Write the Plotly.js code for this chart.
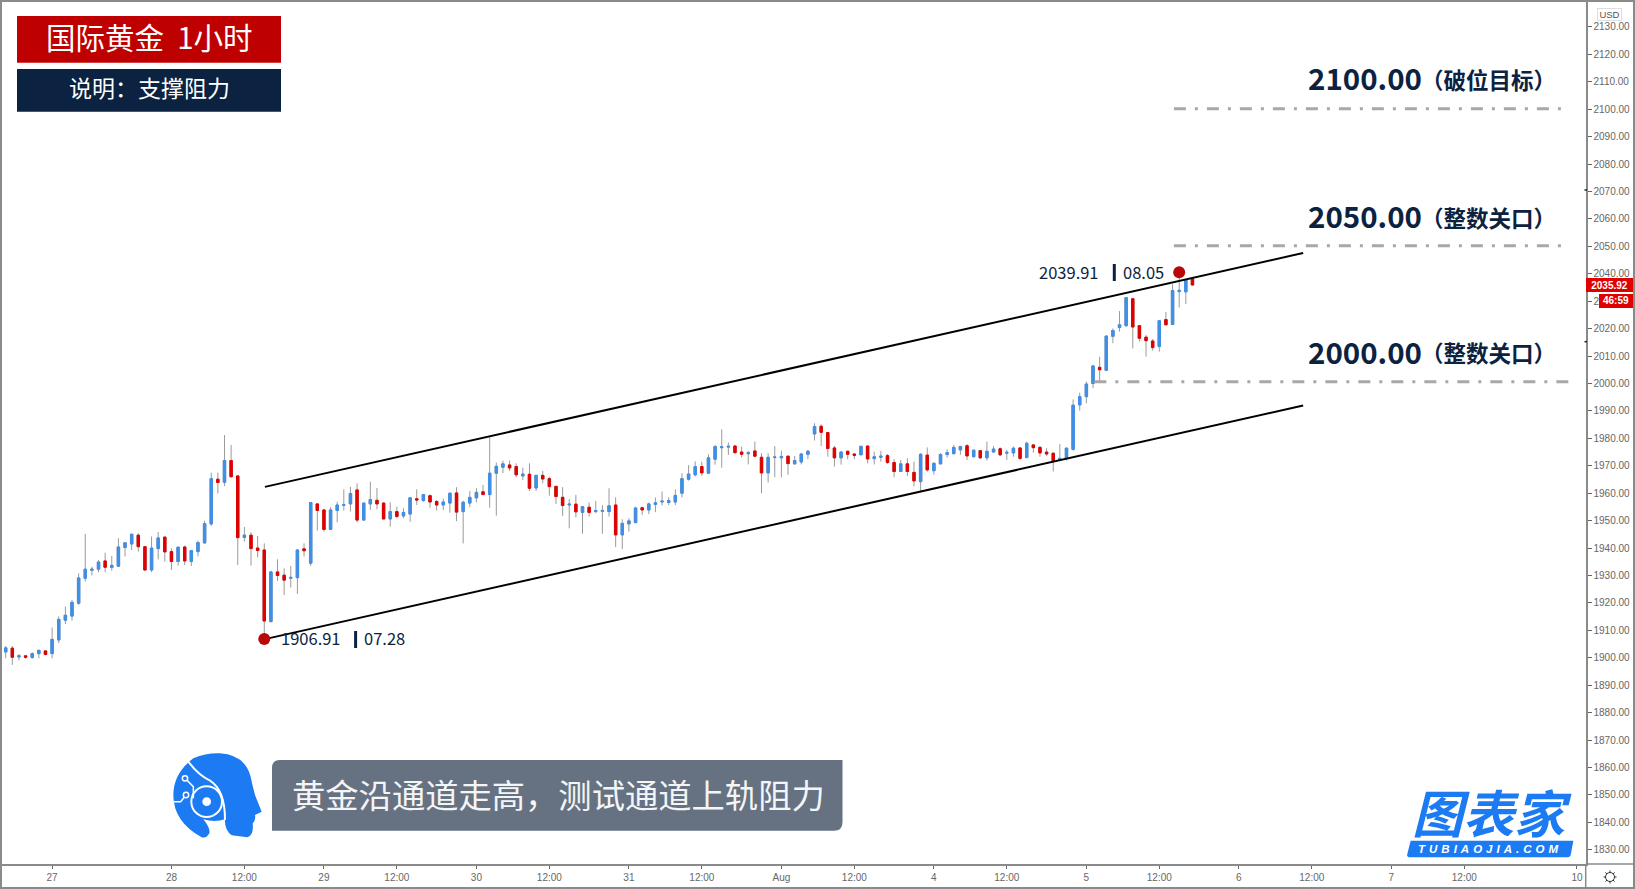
<!DOCTYPE html>
<html><head><meta charset="utf-8">
<script src="https://cdn.plot.ly/plotly-3.0.1.min.js"></script>
<style>html,body{margin:0;padding:0;background:#fff;overflow:hidden}
#frame{position:absolute;left:0;top:0;width:1635px;height:889px;box-sizing:border-box;border:2px solid #8a8a8a;pointer-events:none}
#chart{position:absolute;left:0;top:0;width:1635px;height:889px}</style></head>
<body><div id="chart"></div><div id="frame"></div>
<script>
const opens=[1902.1,1903.5,1900.3,1900.7,1900.1,1901.5,1902.5,1901.5,1906.5,1913.7,1915.2,1919.9,1929.0,1931.9,1932.3,1935.3,1932.9,1933.4,1940.2,1941.5,
1944.7,1940.5,1932.0,1939.8,1944.0,1938.7,1935.1,1940.4,1935.1,1938.7,1941.9,1948.8,1965.1,1964.0,1971.9,1966.3,1943.9,1944.7,1940.0,1939.3,
1913.2,1931.3,1930.1,1929.0,1929.2,1939.7,1934.5,1956.1,1953.9,1946.8,1953.7,1955.6,1956.1,1961.2,1950.2,1956.1,1957.4,1956.4,1950.6,1953.3,
1951.7,1952.4,1958.0,1957.3,1959.1,1957.0,1955.7,1956.4,1960.1,1953.3,1956.4,1958.3,1960.5,1959.5,1967.3,1969.5,1970.3,1969.7,1966.3,1966.9,
1961.9,1966.5,1965.3,1962.5,1958.5,1955.7,1956.0,1953.0,1954.9,1953.3,1953.4,1953.3,1955.7,1944.8,1948.8,1949.3,1954.7,1953.9,1955.9,1956.8,
1956.6,1956.8,1960.0,1965.1,1966.7,1969.7,1967.3,1972.4,1976.6,1976.8,1977.2,1975.0,1974.4,1975.4,1973.1,1967.4,1973.0,1972.9,1973.5,1970.7,
1971.4,1974.2,1981.6,1984.4,1982.1,1976.5,1972.9,1975.3,1974.3,1974.0,1977.2,1972.6,1973.1,1973.7,1971.2,1967.9,1970.7,1967.6,1964.2,1973.9,
1968.2,1970.7,1974.1,1974.4,1975.8,1977.3,1973.3,1975.5,1972.9,1975.0,1976.2,1974.6,1974.7,1976.5,1973.0,1977.6,1976.7,1975.0,1974.6,1972.1,
1972.6,1976.0,1992.2,1995.2,2000.0,2005.9,2004.8,2017.2,2020.4,2021.1,2030.9,2021.1,2016.9,2015.5,2013.5,2023.3,2021.5,2033.5,2033.4,2038.1];
const closes=[1903.6,1900.2,1900.7,1900.2,1901.5,1902.7,1901.2,1906.7,1914.0,1915.5,1920.2,1929.1,1932.3,1932.3,1934.9,1933.0,1933.7,1940.4,1941.9,1945.0,
1940.5,1932.0,1940.0,1943.7,1938.6,1935.1,1940.3,1935.3,1939.1,1942.0,1948.9,1965.3,1963.9,1971.9,1966.0,1943.8,1944.7,1939.8,1939.1,1913.4,
1931.3,1930.0,1928.3,1929.3,1939.3,1939.0,1956.6,1953.7,1946.8,1953.9,1955.7,1955.8,1959.9,1950.2,1956.4,1957.7,1956.1,1950.6,1953.3,1951.5,
1953.0,1958.3,1957.5,1959.5,1956.8,1955.7,1956.8,1960.0,1953.1,1956.7,1958.5,1960.3,1959.5,1967.3,1969.8,1970.7,1969.2,1966.7,1967.0,1961.8,
1966.5,1965.2,1962.4,1958.8,1955.5,1956.0,1953.2,1955.1,1953.0,1953.7,1953.7,1955.4,1944.8,1949.0,1949.9,1954.6,1953.9,1956.1,1956.5,1957.1,
1957.3,1959.2,1965.3,1967.0,1969.7,1967.4,1972.9,1977.0,1976.9,1977.1,1974.8,1974.2,1974.8,1973.5,1967.4,1973.1,1973.2,1973.4,1970.8,1971.9,
1974.3,1975.3,1984.3,1982.2,1976.3,1972.9,1975.0,1974.2,1973.8,1977.1,1972.5,1973.3,1973.5,1971.2,1967.9,1970.7,1967.9,1964.5,1974.2,1968.5,
1970.9,1974.1,1974.8,1976.7,1977.0,1973.6,1975.7,1972.9,1975.3,1976.1,1974.0,1974.9,1976.4,1972.7,1978.2,1976.6,1974.7,1974.3,1971.8,1972.7,
1976.4,1992.1,1995.2,1999.8,2006.4,2005.0,2017.3,2019.3,2021.4,2031.3,2020.6,2016.5,2015.6,2013.1,2022.9,2021.4,2033.9,2034.0,2037.8,2035.92];
const highs=[1904.3,1904.3,1901.4,1901.0,1902.0,1903.0,1902.6,1911.0,1915.1,1918.7,1921.1,1930.8,1945.2,1933.2,1935.7,1938.3,1937.1,1943.6,1942.0,1945.4,
1945.4,1940.8,1944.2,1945.9,1944.0,1939.9,1940.5,1940.9,1939.3,1942.7,1950.0,1967.5,1967.5,1981.2,1977.6,1966.3,1947.7,1945.8,1944.4,1941.7,
1931.7,1935.9,1932.6,1933.5,1939.5,1941.7,1956.7,1956.1,1954.2,1954.9,1956.9,1961.4,1962.3,1963.6,1956.6,1964.2,1961.9,1956.6,1956.7,1955.1,
1954.5,1958.4,1961.4,1959.7,1959.5,1957.5,1958.0,1960.1,1962.2,1957.3,1960.8,1961.8,1963.0,1980.4,1971.2,1971.9,1971.9,1970.9,1969.3,1970.9,
1966.7,1968.1,1966.0,1962.6,1962.2,1957.8,1959.4,1955.1,1956.6,1957.2,1955.7,1961.8,1958.5,1950.5,1950.9,1955.1,1955.1,1956.6,1958.4,1960.6,
1958.5,1961.4,1967.3,1970.2,1971.6,1971.5,1974.2,1977.6,1983.3,1978.5,1977.6,1977.0,1975.4,1978.8,1974.6,1974.6,1977.2,1975.5,1973.6,1973.6,
1974.6,1975.8,1985.5,1985.1,1982.1,1977.3,1975.4,1975.4,1974.4,1977.2,1977.3,1975.2,1975.4,1974.3,1972.4,1972.1,1972.7,1971.5,1974.6,1976.7,
1971.2,1974.6,1976.0,1977.6,1977.3,1977.9,1975.8,1975.8,1978.8,1977.2,1976.7,1975.8,1977.0,1976.7,1978.8,1977.9,1977.2,1976.4,1974.6,1977.9,
1976.7,1994.2,1996.7,2000.7,2006.8,2009.8,2017.4,2020.1,2026.4,2031.4,2031.0,2021.3,2017.7,2016.2,2023.2,2026.1,2036.2,2039.91,2037.8,2038.3];
const lows=[1899.8,1897.4,1899.0,1899.6,1899.6,1899.8,1900.9,1899.8,1905.3,1912.3,1913.6,1919.3,1927.8,1930.0,1931.2,1931.2,1931.7,1933.2,1936.9,1939.3,
1938.7,1931.7,1931.2,1935.9,1935.1,1932.0,1933.6,1933.8,1933.5,1936.9,1941.5,1948.1,1959.9,1962.6,1965.8,1933.8,1942.4,1933.6,1936.6,1906.91,
1912.8,1928.0,1922.9,1925.6,1923.3,1936.9,1933.5,1946.4,1946.0,1946.8,1949.4,1953.7,1953.3,1949.3,1950.2,1953.9,1954.1,1950.6,1947.8,1950.9,
1950.9,1949.6,1955.7,1956.9,1954.7,1953.7,1953.9,1952.9,1949.8,1941.7,1954.9,1956.6,1959.5,1954.7,1951.8,1967.3,1968.1,1965.8,1964.8,1960.8,
1960.8,1963.6,1959.1,1956.1,1951.7,1947.2,1951.2,1945.2,1951.5,1952.7,1945.2,1951.5,1940.4,1939.6,1946.0,1949.0,1952.1,1952.4,1953.1,1955.5,
1955.7,1955.7,1958.5,1964.6,1966.1,1966.3,1967.3,1970.4,1969.3,1974.0,1974.3,1973.1,1970.5,1973.3,1960.0,1963.9,1965.8,1965.8,1966.7,1970.5,
1970.5,1972.4,1979.2,1977.2,1973.3,1969.7,1970.4,1972.4,1972.4,1974.0,1970.9,1970.5,1971.5,1970.7,1965.8,1967.9,1966.3,1962.5,1960.5,1967.9,
1966.7,1970.5,1973.0,1974.3,1974.0,1972.1,1973.0,1972.6,1971.9,1975.0,1973.6,1972.1,1973.3,1972.1,1972.7,1974.8,1973.3,1973.6,1967.9,1971.9,
1971.9,1975.5,1990.1,1992.8,1998.3,2000.7,2004.7,2014.7,2018.9,2020.5,2012.8,2015.3,2009.8,2012.0,2011.6,2021.4,2021.5,2027.7,2029.0,2035.7];
const barIndex=opens.map((_,i)=>i);
const bodyTops=opens.map((o,i)=>Math.max(o,closes[i]));
const bodyBottoms=opens.map((o,i)=>Math.min(o,closes[i]));

const tickBars=[7,25,36,48,59,71,82,94,105,117,128,140,151,163,174,186,197,209,220,237];
const tickLabels=['27','28','12:00','29','12:00','30','12:00','31','12:00','Aug','12:00','4','12:00','5','12:00','6','12:00','7','12:00','10'];
const priceTicks=[1830,1840,1850,1860,1870,1880,1890,1900,1910,1920,1930,1940,1950,1960,1970,1980,1990,2000,2010,2020,2030,2040,2050,2060,2070,2080,2090,2100,2110,2120,2130];

const channelBars=[39.1,195.7];
const channelUpper=[1962.3,2047.6];
const channelLower=[1906.8,1992.0];

const levelPrices=[2100.2,2050.2,2000.6];
const levelStarts=[176.2,176.2,164.2];
const levelEnds=[234.7,234.7,235.8];
const levelNames=['（破位目标）','（整数关口）','（整数关口）'];
const levelTexts=['2100.00','2050.00','2000.00'];

const dotBars=[39,177];
const dotPrices=[1906.8,2040.6];

const PL=2,PT=2,PW=1584,PH=862;
const fx=p=>(p-PL)/PW, fy=p=>1-(p-PT)/PH;
const rect=(x0,y0,x1,y1,c)=>({type:'rect',xref:'paper',yref:'paper',x0:fx(x0),x1:fx(x1),y0:fy(y0),y1:fy(y1),fillcolor:c,line:{width:0}});
const seg=(x0,y0,x1,y1,c,w)=>({type:'line',xref:'paper',yref:'paper',x0:fx(x0),x1:fx(x1),y0:fy(y0),y1:fy(y1),line:{color:c,width:w}});
function path(cmds,fill,lineC,lineW){
  const d=cmds.map(c=>c[0]+(c.length>1?' '+c.slice(1).map((v,j)=>j%2?fy(v):fx(v)).join(' '):'')).join(' ');
  return {type:'path',xref:'paper',yref:'paper',path:d,fillcolor:fill||'rgba(0,0,0,0)',line:{color:lineC||'rgba(0,0,0,0)',width:lineW||0}};
}
const note=(x,y,text,size,color,extra)=>Object.assign({xref:'paper',yref:'paper',x:fx(x),y:fy(y),xanchor:'center',yanchor:'middle',showarrow:false,text:text,font:{family:'"Noto Sans CJK SC","Noto Sans",sans-serif',size:size,color:color}},extra||{});

const hx=v=>160+v/3, hy=v=>740+v/3;
const H=(c,...a)=>[c,...a.map((v,i)=>i%2?hy(v):hx(v))];
const circ=(cx,cy,r,fill,lc,lw)=>({type:'circle',xref:'paper',yref:'paper',x0:fx(hx(cx-r)),x1:fx(hx(cx+r)),y0:fy(hy(cy-r)),y1:fy(hy(cy+r)),fillcolor:fill,line:{color:lc||'rgba(0,0,0,0)',width:lw||0}});
const BLUE='#1c7bf2';
const head=[
 path([H('M',100,55),H('Q',140,38,180,40),H('Q',255,45,272,110),H('Q',278,140,285,165),H('L',305,215),H('L',285,225),H('Q',288,240,278,250),H('Q',282,285,262,292),H('L',215,286),H('Q',193,270,195,238),H('Q',165,248,130,238),H('Q',152,265,148,280),H('Q',140,296,125,292),H('Q',40,245,40,165),H('Q',40,100,100,55),['Z']],BLUE),
 path([H('M',85,65),H('Q',115,105,150,122),H('Q',195,150,195,240)],null,'#fff',2),
 circ(140,185,46,'rgba(0,0,0,0)','#fff',2),
 circ(140,185,13,'#fff'),
 path([H('M',42,185),H('L',62,185),H('L',78,165)],null,'#fff',1.5),
 path([H('M',75,115),H('L',100,140),H('L',100,175)],null,'#fff',1.5),
 circ(75,115,8,BLUE,'#fff',1.5),
 circ(78,165,8,BLUE,'#fff',1.5)
];

const lx=v=>1380+v/3, ly=v=>770+v/3;
const L=(c,...a)=>[c,...a.map((v,i)=>i%2?ly(v):lx(v))];

function circ2(x,y,r){return {type:'circle',xref:'paper',yref:'paper',x0:fx(x-r),x1:fx(x+r),y0:fy(y-r),y1:fy(y+r),fillcolor:'#fff',line:{color:'#333',width:1}};}
const gear=[circ2(1610,877,4.5)];
const gearSpokes=[[0,-6.5,0,-4],[0,4,0,6.5],[-6.5,0,-4,0],[4,0,6.5,0],[-4.6,-4.6,-3,-3],[3,3,4.6,4.6],[-4.6,4.6,-3,3],[3,-3,4.6,-4.6]].map(s=>seg(1610+s[0],877+s[1],1610+s[2],877+s[3],'#333',1));

const shapes=[
 rect(17,16,281,62.7,'#bf0000'),
 rect(17,69,281,111.7,'#0b2240'),
 path([['M',272,830.7],['L',272,768],['Q',272,760,280,760],['L',842.5,760],['L',842.5,822],['Q',842.5,830.7,834,830.7],['Z']],'#667282'),
 ...head,
 path([L('M',92,212),L('L',580,212),L('L',572,255),L('Q',570,262,560,262),L('L',88,262),L('Q',80,262,82,252),['Z']],BLUE),
 seg(1114.3,264,1114.3,281,'#0b2240',3),
 seg(355.6,631,355.6,648,'#0b2240',3),
 seg(1585.7,864,1633,864,'#8a8a8a',1.5),
 seg(1585.7,864,1585.7,887,'#8a8a8a',1.5),
 seg(1584.5,190,1587,190,'#222',1.5),
 seg(1584.5,341.7,1587,341.7,'#222',1.5),
 ...gear,...gearSpokes
];

const annotations=[
 note(149,36,'国际黄金&nbsp;&nbsp;1小时',29.5,'#fff'),
 note(149,87,'说明：支撑阻力',23,'#fff'),
 note(558,793.5,'黄金沿通道走高，测试通道上轨阻力',33.3,'#f4f5f6'),
 note(311,638,'1906.91',16.5,'#0b2240'),
 note(384.5,638,'07.28',16.5,'#0b2240'),
 note(1069,272,'2039.91',16.5,'#0b2240'),
 note(1143,272,'08.05',16.5,'#0b2240'),
 ...levelTexts.map((t,i)=>note(1365,[77,215,350.5][i],'<b>'+t+'</b>',29.5,'#0b2240')),
 ...levelNames.map((t,i)=>note(1488,[79,217,352][i],'<b>'+t+'</b>',22.5,'#0b2240')),
 note(1491.5,811,'<b><i>图表家</i></b>',51,BLUE),
 note(1490,849,'<b><i>TUBIAOJIA.COM</i></b>',11.5,'#fff',{font:{family:'"Liberation Sans",Arial,sans-serif',size:11.5,color:'#fff'}}),
 {xref:'paper',yref:'paper',x:fx(1609.5),y:fy(15),xanchor:'center',yanchor:'middle',showarrow:false,text:'USD',font:{family:'"Liberation Sans",Arial,sans-serif',size:9.5,color:'#555'},bgcolor:'#fff',bordercolor:'#dedede',borderwidth:1,width:23,height:11,borderpad:0},
 {xref:'paper',yref:'paper',x:fx(1586),y:fy(285),xanchor:'left',yanchor:'middle',showarrow:false,text:'<b>2035.92</b>',font:{family:'"Liberation Sans",Arial,sans-serif',size:10,color:'#fff'},bgcolor:'#e00000',width:47,height:14,borderpad:0,borderwidth:0},
 {xref:'paper',yref:'paper',x:fx(1599),y:fy(300.8),xanchor:'left',yanchor:'middle',showarrow:false,text:'<b>46:59</b>',font:{family:'"Liberation Sans",Arial,sans-serif',size:10,color:'#fff'},bgcolor:'#e00000',width:34,height:13.5,borderpad:0,borderwidth:0}
];

const wickColor='#9a9a9a', upColor='#3f8fe8', downColor='#e00000';
const data=[
 {type:'candlestick',x:barIndex,open:opens,high:highs,low:lows,close:closes,hoverinfo:'skip',showlegend:false,
  increasing:{line:{color:wickColor,width:1},fillcolor:wickColor},decreasing:{line:{color:wickColor,width:1},fillcolor:wickColor}},
 {type:'candlestick',x:barIndex,open:opens,high:bodyTops,low:bodyBottoms,close:closes,hoverinfo:'skip',showlegend:false,
  increasing:{line:{color:upColor,width:1},fillcolor:upColor},decreasing:{line:{color:downColor,width:1},fillcolor:downColor}},
 {type:'scatter',mode:'lines',x:channelBars,y:channelUpper,line:{color:'#000',width:2},hoverinfo:'skip',showlegend:false},
 {type:'scatter',mode:'lines',x:channelBars,y:channelLower,line:{color:'#000',width:2},hoverinfo:'skip',showlegend:false},
 ...levelPrices.map((p,i)=>({type:'scatter',mode:'lines',x:[levelStarts[i],levelEnds[i]],y:[p,p],line:{color:'#a8a8a8',width:3,dash:'12px,9px,3px,9px'},hoverinfo:'skip',showlegend:false})),
 {type:'scatter',mode:'markers',x:dotBars,y:dotPrices,marker:{color:'#b80808',size:12},hoverinfo:'skip',showlegend:false}
];

const layout={
 width:1635,height:889,showlegend:false,paper_bgcolor:'#fff',plot_bgcolor:'#fff',boxgap:0.48,boxmode:'overlay',
 margin:{l:PL,r:1635-PL-PW,t:PT,b:889-PT-PH,pad:0},
 xaxis:{type:'linear',range:[-0.558,238.36],rangeslider:{visible:false},showgrid:false,zeroline:false,tickmode:'array',tickvals:tickBars,ticktext:tickLabels,ticks:'outside',ticklen:3,tickcolor:'#666',tickwidth:1,showline:true,linecolor:'#8a8a8a',linewidth:1.5,tickfont:{family:'"Liberation Sans",Arial,sans-serif',size:10,color:'#666'}},
 yaxis:{side:'right',type:'linear',range:[1824.8,2139.1],showgrid:false,zeroline:false,tickmode:'array',tickvals:priceTicks,ticktext:priceTicks.map(v=>v.toFixed(2)),ticks:'outside',ticklen:4,tickcolor:'#666',tickwidth:1,showline:true,linecolor:'#8a8a8a',linewidth:1.5,tickfont:{family:'"Liberation Sans",Arial,sans-serif',size:10,color:'#666'}},
 shapes:shapes,annotations:annotations
};
Plotly.newPlot('chart',data,layout,{staticPlot:true,displayModeBar:false}).then(()=>{
 document.querySelectorAll('.annotation-text').forEach(t=>{ if(t.textContent==='TUBIAOJIA.COM'){t.style.letterSpacing='4px';} });
});
</script></body></html>
